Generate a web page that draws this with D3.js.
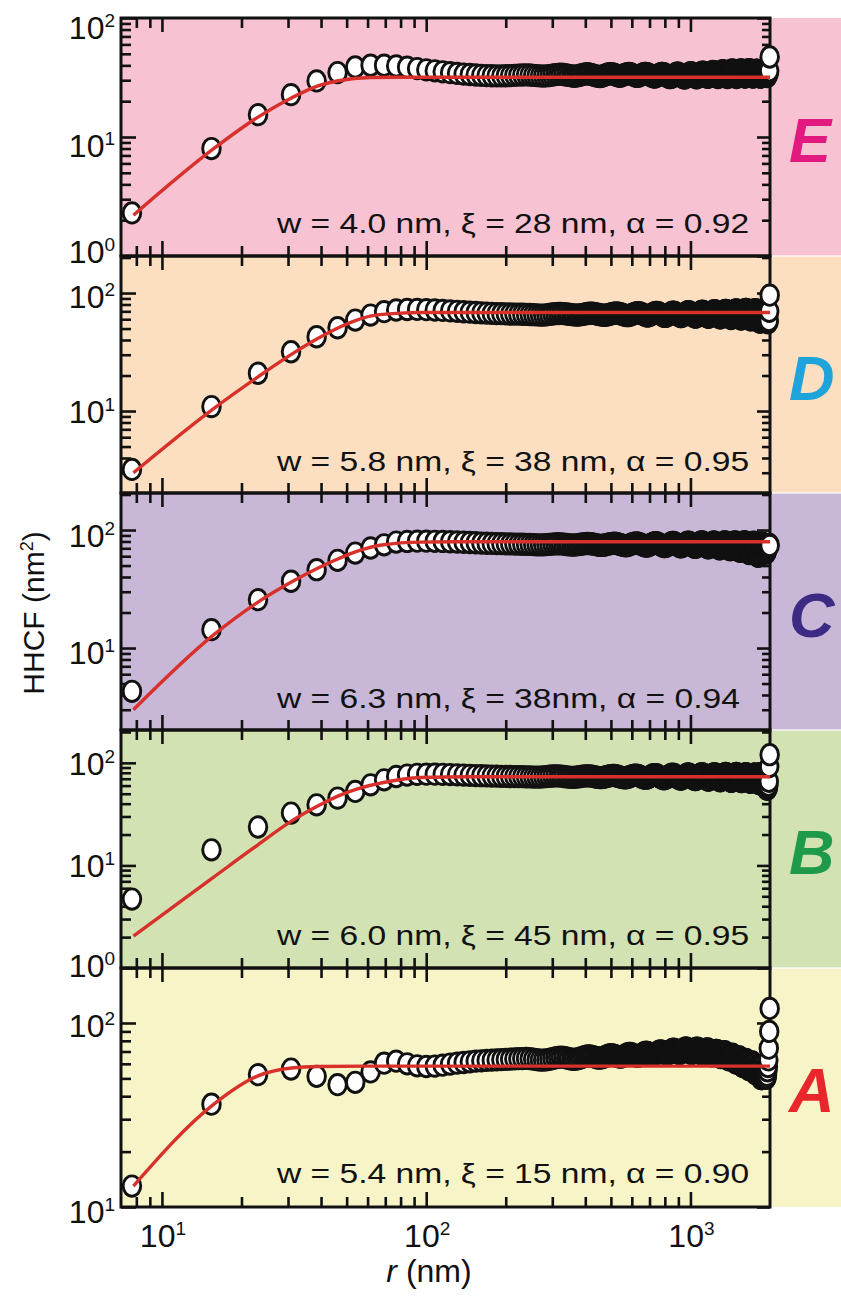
<!DOCTYPE html>
<html>
<head>
<meta charset="utf-8">
<script src="https://cdn.jsdelivr.net/npm/d3@7/dist/d3.min.js"></script>
<style>
  body { margin: 0; background: #fff; }
  svg { display: block; font-family: Arial, "Liberation Sans", Helvetica, sans-serif; }
</style>
</head>
<body>
<svg id="chart" width="841" height="1297"></svg>
<script>
// HHCF data, one value per point, points spaced rStep nm apart (r = rStep, 2*rStep, ...)
const rStep = 7.7;
const panelNames = ["E", "D", "C", "B", "A"];

const hhcfE = [
  2.3,8.0,15.4,22.7,29.6,34.8,38.8,40.1,40.1,39.5,
  38.6,37.6,36.7,36.0,35.3,34.7,34.2,33.8,33.5,33.2,
  33.0,32.8,32.7,32.6,32.6,32.7,32.8,33.0,33.1,33.2,
  33.3,33.2,33.0,32.8,32.6,32.5,32.6,32.8,33.1,33.4,
  33.6,33.7,33.5,33.2,32.9,32.6,32.4,32.5,32.8,33.2,
  33.6,33.9,34.0,33.8,33.4,33.0,32.6,32.3,32.2,32.4,
  32.8,33.3,33.7,34.0,34.1,33.9,33.5,33.0,32.6,32.4,
  32.5,32.9,33.4,33.8,34.1,34.2,34.0,33.6,33.1,32.7,
  32.4,32.3,32.5,32.9,33.4,33.9,34.2,34.3,34.1,33.7,
  33.2,32.7,32.3,32.0,31.9,32.1,32.5,33.0,33.5,33.9,
  34.2,34.3,34.1,33.6,33.0,32.4,31.9,31.6,31.5,31.7,
  32.1,32.7,33.3,33.9,34.3,34.5,34.3,33.8,33.2,32.5,
  31.9,31.5,31.3,31.4,31.8,32.4,33.1,33.8,34.4,34.7,
  34.6,34.2,33.5,32.8,32.1,31.6,31.4,31.6,32.1,32.8,
  33.5,34.2,34.8,35.1,35.0,34.6,33.9,33.1,32.4,31.9,
  31.7,31.9,32.4,33.1,33.9,34.7,35.3,35.6,35.4,34.9,
  34.1,33.2,32.4,31.8,31.6,31.8,32.4,33.2,34.1,35.0,
  35.7,36.1,36.0,35.5,34.7,33.7,32.8,32.0,31.6,31.7,
  32.2,33.0,33.9,34.9,35.8,36.4,36.6,36.3,35.6,34.6,
  33.6,32.6,31.9,31.6,31.8,32.4,33.3,34.3,35.3,36.1,
  36.6,36.7,36.3,35.5,34.5,33.5,32.6,32.0,31.8,32.0,
  32.6,33.5,34.5,35.5,36.3,36.8,36.8,36.3,35.5,34.5,
  33.5,32.6,32.0,31.8,32.0,32.6,33.5,34.5,35.4,36.1,
  36.5,36.5,36.0,35.2,34.2,33.2,32.4,31.9,31.8,32.1,
  32.7,33.5,34.4,35.2,35.8,36.0,35.8,35.2,34.4,33.5,
  32.8,32.3,32.2,32.5,33.2,34.1,35.0,36.0,47.0
];

const hhcfD = [
  3.2,10.9,20.9,31.8,42.6,50.8,59.0,65.1,69.5,71.8,
  72.5,72.6,72.3,71.8,71.2,70.6,70.0,69.4,68.9,68.4,
  68.0,67.6,67.3,67.0,66.8,66.6,66.4,66.3,66.2,66.1,
  66.0,65.8,65.5,65.2,65.0,65.1,65.4,65.9,66.4,66.8,
  67.1,67.2,67.0,66.6,66.1,65.6,65.2,65.0,65.1,65.5,
  66.0,66.6,67.1,67.4,67.5,67.2,66.7,66.1,65.5,65.0,
  64.7,64.8,65.2,65.8,66.5,67.1,67.6,67.8,67.6,67.1,
  66.4,65.7,65.0,64.5,64.3,64.5,65.0,65.7,66.5,67.3,
  67.9,68.2,68.1,67.6,66.8,65.9,65.0,64.3,63.9,64.0,
  64.5,65.3,66.2,67.2,68.0,68.5,68.6,68.2,67.4,66.4,
  65.3,64.3,63.6,63.3,63.5,64.1,65.0,66.1,67.2,68.1,
  68.7,68.9,68.6,67.9,66.9,65.8,64.7,63.8,63.2,63.1,
  63.5,64.3,65.4,66.6,67.8,68.8,69.4,69.5,69.0,68.1,
  66.9,65.5,64.2,63.1,62.5,62.4,62.9,63.9,65.2,66.6,
  68.0,69.2,70.0,70.2,69.8,68.8,67.5,66.0,64.5,63.3,
  62.5,62.3,62.7,63.6,65.0,66.6,68.2,69.6,70.5,70.8,
  70.4,69.4,68.0,66.3,64.6,63.1,62.0,61.5,61.7,62.5,
  63.8,65.5,67.3,69.0,70.4,71.2,71.3,70.7,69.4,67.7,
  65.8,63.9,62.3,61.2,60.8,61.2,62.3,64.0,66.0,68.1,
  70.0,71.4,72.1,72.0,71.1,69.6,67.6,65.4,63.3,61.6,
  60.5,60.2,60.7,61.9,63.7,65.8,68.0,70.0,71.6,72.5,
  72.6,71.9,70.5,68.5,66.2,63.9,61.8,60.2,59.3,59.2,
  59.9,61.4,63.4,65.7,68.0,70.0,71.5,72.3,72.2,71.3,
  69.6,67.3,64.7,62.0,59.6,57.8,56.8,56.6,57.3,58.8,
  60.9,63.3,65.8,68.1,69.9,70.9,71.0,70.1,68.3,65.8,
  63.0,60.3,58.0,56.5,55.9,56.6,58.5,70.0,96.0
];

const hhcfC = [
  4.3,14.3,25.7,36.8,46.1,55.4,63.8,70.4,75.0,79.1,
  80.0,80.4,80.5,80.3,80.0,79.6,79.2,78.8,78.4,78.0,
  77.6,77.3,77.0,76.8,76.6,76.4,76.2,76.0,75.9,75.8,
  75.7,75.5,75.2,75.0,74.9,75.0,75.3,75.7,76.1,76.4,
  76.5,76.3,75.9,75.4,75.0,74.7,74.6,74.8,75.2,75.8,
  76.3,76.7,76.9,76.8,76.4,75.8,75.2,74.6,74.2,74.1,
  74.3,74.8,75.5,76.2,76.8,77.2,77.3,77.0,76.4,75.6,
  74.8,74.1,73.7,73.6,73.9,74.5,75.3,76.2,77.0,77.6,
  77.8,77.6,77.0,76.1,75.1,74.1,73.4,73.0,73.1,73.6,
  74.4,75.4,76.4,77.3,77.9,78.1,77.8,77.1,76.1,75.0,
  73.9,73.0,72.5,72.4,72.8,73.6,74.7,75.9,77.0,77.9,
  78.4,78.4,77.9,77.0,75.8,74.5,73.3,72.4,71.9,72.0,
  72.6,73.6,74.9,76.3,77.6,78.6,79.1,79.0,78.3,77.1,
  75.7,74.2,72.8,71.8,71.3,71.4,72.1,73.3,74.8,76.4,
  77.8,78.9,79.4,79.3,78.6,77.3,75.7,74.0,72.5,71.3,
  70.7,70.8,71.5,72.8,74.4,76.1,77.6,78.7,79.2,79.0,
  78.1,76.6,74.8,72.9,71.1,69.8,69.2,69.4,70.3,71.9,
  73.8,75.8,77.6,78.9,79.5,79.3,78.3,76.6,74.5,72.3,
  70.3,68.8,68.1,68.2,69.1,70.8,72.9,75.1,77.1,78.6,
  79.4,79.3,78.3,76.5,74.2,71.7,69.3,67.4,66.3,66.1,
  66.8,68.4,70.6,73.1,75.6,77.7,79.1,79.6,79.1,77.6,
  75.3,72.5,69.6,66.9,64.8,63.5,63.2,63.9,65.5,67.8,
  70.5,73.3,75.9,77.8,78.8,78.7,77.4,75.1,72.1,68.8,
  65.6,62.8,60.8,59.8,59.9,61.2,63.5,66.5,69.8,72.9,
  75.4,77.0,77.6,77.0,75.4,73.0,70.2,67.5,65.3,64.0,
  63.8,64.8,66.8,69.4,72.1,74.3,75.6,75.7,74.0
];

const hhcfB = [
  4.7,14.2,23.7,32.4,39.0,45.3,52.6,61.1,68.3,73.6,
  76.0,77.2,77.6,77.5,77.2,76.8,76.4,76.0,75.6,75.2,
  74.9,74.6,74.3,74.1,73.9,73.7,73.6,73.5,73.4,73.3,
  73.1,72.9,72.7,72.6,72.7,73.0,73.5,74.0,74.4,74.6,
  74.5,74.1,73.6,73.0,72.5,72.2,72.2,72.5,73.0,73.6,
  74.2,74.6,74.8,74.6,74.1,73.4,72.7,72.1,71.8,71.9,
  72.3,73.0,73.8,74.6,75.2,75.5,75.3,74.8,74.0,73.1,
  72.3,71.7,71.4,71.5,72.0,72.8,73.8,74.8,75.6,76.0,
  76.0,75.5,74.6,73.5,72.4,71.5,70.9,70.8,71.2,72.0,
  73.1,74.4,75.6,76.5,76.9,76.8,76.1,75.0,73.6,72.2,
  71.0,70.2,69.9,70.1,70.9,72.0,73.4,74.9,76.2,77.1,
  77.5,77.3,76.5,75.2,73.6,72.0,70.6,69.7,69.3,69.6,
  70.4,71.7,73.3,74.9,76.4,77.5,78.0,77.8,76.9,75.5,
  73.8,72.0,70.4,69.2,68.6,68.7,69.5,70.9,72.7,74.6,
  76.3,77.6,78.3,78.3,77.5,76.1,74.3,72.3,70.4,68.9,
  68.0,67.8,68.4,69.7,71.5,73.5,75.5,77.1,78.2,78.6,
  78.2,77.1,75.4,73.3,71.1,69.1,67.6,66.9,67.0,67.9,
  69.5,71.6,73.9,76.0,77.7,78.7,78.9,78.2,76.7,74.6,
  72.3,70.0,68.0,66.6,66.0,66.2,67.3,69.1,71.4,73.8,
  76.0,77.7,78.7,78.9,78.2,76.7,74.6,72.2,69.8,67.8,
  66.3,65.6,65.8,66.9,68.8,71.2,73.7,76.0,77.7,78.6,
  78.5,77.5,75.6,73.2,70.6,68.1,66.1,64.8,64.4,64.9,
  66.2,68.2,70.6,73.1,75.4,77.1,78.0,77.9,76.8,74.9,
  72.4,69.7,67.1,64.9,63.3,62.6,62.8,64.0,66.0,68.5,
  71.2,73.6,75.4,76.1,75.5,73.6,70.7,67.2,63.6,60.3,
  57.7,56.0,55.3,55.8,57.5,60.5,66.0,92.0,120.0
];

const hhcfA = [
  13.0,36.2,52.4,56.2,51.3,46.2,47.6,54.2,60.5,62.0,
  60.0,58.5,58.0,58.3,59.0,59.8,60.5,61.0,61.5,62.0,
  62.3,62.6,62.8,63.0,63.2,63.4,63.6,63.8,64.0,64.1,
  64.2,64.0,63.6,63.2,62.9,62.8,63.0,63.5,64.1,64.7,
  65.1,65.2,65.0,64.6,64.1,63.7,63.5,63.6,64.0,64.6,
  65.3,65.9,66.2,66.2,65.9,65.4,64.9,64.5,64.4,64.6,
  65.1,65.8,66.5,67.0,67.2,67.1,66.7,66.1,65.6,65.3,
  65.3,65.7,66.4,67.2,67.9,68.3,68.3,67.9,67.2,66.5,
  66.0,65.8,66.0,66.6,67.4,68.3,69.0,69.4,69.3,68.8,
  68.1,67.4,66.9,66.8,67.1,67.8,68.7,69.6,70.3,70.6,
  70.4,69.8,69.0,68.2,67.7,67.6,68.0,68.8,69.9,71.0,
  71.8,72.1,71.9,71.2,70.2,69.2,68.4,68.1,68.3,69.0,
  70.1,71.3,72.4,73.1,73.2,72.8,71.9,70.7,69.5,68.6,
  68.2,68.4,69.1,70.2,71.4,72.5,73.1,73.1,72.5,71.4,
  70.1,68.8,67.8,67.4,67.6,68.4,69.6,70.9,71.9,72.4,
  72.2,71.4,70.1,68.6,67.3,66.4,66.2,66.7,67.7,68.9,
  70.1,70.9,71.0,70.5,69.3,67.8,66.3,65.2,64.8,65.1,
  66.1,67.4,68.7,69.6,69.8,69.2,68.0,66.4,64.8,63.6,
  63.0,63.2,64.0,65.3,66.6,67.5,67.7,67.1,65.8,64.1,
  62.4,61.1,60.6,60.9,61.9,63.3,64.6,65.4,65.4,64.6,
  63.1,61.3,59.6,58.4,58.0,58.5,59.7,61.2,62.6,63.4,
  63.3,62.3,60.6,58.7,57.0,55.9,55.7,56.3,57.6,59.2,
  60.6,61.4,61.3,60.3,58.6,56.6,54.7,53.4,53.0,53.5,
  54.7,56.2,57.6,58.3,58.0,56.8,54.9,52.8,51.0,49.9,
  49.8,50.6,52.1,53.7,54.9,55.3,54.8,53.5,51.9,50.6,
  50.0,50.4,52.0,55.0,58.0,63.0,73.0,90.0,120.0
];

// fitted curves as [r (nm), HHCF (nm^2)] knots
const fitE = [[7.8,2.2],[15.6,7.9],[23.1,14.7],[30.9,21.3],[39,26.9],[46.5,29.7],[61.4,31.6],[95,31.8],[2000,31.8]];
const fitD = [[7.8,3.0],[15.6,10.4],[23.1,19.5],[30.9,30.2],[39,41.3],[46.5,50.8],[54.6,59.0],[61.4,63.8],[77.4,67.3],[95,68.4],[2000,68.4]];
const fitC = [[7.8,3.0],[15.6,12.8],[23.1,24.5],[30.9,36.2],[39,47.6],[46.5,57.1],[54.6,65.9],[69,75.0],[95,79.0],[130,79.5],[2000,79.5]];
const fitB = [[7.8,2.04],[15.6,7.6],[23.1,15.9],[30.9,27.0],[39,38.1],[46.5,47.7],[54.6,55.5],[69,64.3],[95,71.9],[150,73.3],[2000,73.3]];
const fitA = [[7.8,13.0],[15.6,35.9],[23.1,51.6],[30.9,56.9],[39,58.0],[60,58.3],[2000,58.3]];

const fitLabels = [
  "w = 4.0 nm, \u03BE = 28 nm, \u03B1 = 0.92",
  "w = 5.8 nm, \u03BE = 38 nm, \u03B1 = 0.95",
  "w = 6.3 nm, \u03BE = 38nm, \u03B1 = 0.94",
  "w = 6.0 nm, \u03BE = 45 nm, \u03B1 = 0.95",
  "w = 5.4 nm, \u03BE = 15 nm, \u03B1 = 0.90"
];

// axes
const xDomain = [7, 2000];
const xMajor = [10, 100, 1000];
const yDomains = [[1, 100], [2.02, 206], [2.02, 206], [1, 209], [10, 199]];
const yMajorLabels = [[1, 10, 100], [10, 100], [10, 100], [1, 10, 100], [10, 100]];

///////////////////////////////////////////////////////////////////////////
// layout + styles
const bgColors = ["#f7c2d1", "#fbdfc0", "#c9b7d8", "#d2e2b3", "#f7f5c7"];
const letterColors = ["#e2197e", "#1ea3da", "#3c2a83", "#1f9a4a", "#e8262c"];
const fitColor = "#d8302b";

const plotLeft = 121, plotRight = 770, svgW = 841;
const panelEdges = [18, 256, 493, 730, 968, 1207];
// nudge of each y tick label (by exponent) relative to its tick, as in the figure
const yLabelNudge = [{0: -5, 1: 8, 2: 9}, {1: 0, 2: 3}, {1: 4, 2: 5}, {0: -3, 1: 0, 2: 0}, {1: 4, 2: 2}];

const svg = d3.select("#chart");
const x = d3.scaleLog().domain(xDomain).range([plotLeft, plotRight]);

const series = [hhcfE, hhcfD, hhcfC, hhcfB, hhcfA];
const fits = [fitE, fitD, fitC, fitB, fitA];

function minorTicks(domain) {
  const out = [];
  for (let e = -1; e <= 4; e++) {
    for (let k = 2; k <= 9; k++) {
      const v = k * Math.pow(10, e);
      if (v > domain[0] * 1.001 && v < domain[1] * 0.999) out.push(v);
    }
  }
  return out;
}
const xMinor = minorTicks(xDomain).filter(v => v < 1900);

// backgrounds first so neighbours don't cover frames
panelNames.forEach((name, i) => {
  const top = panelEdges[i], bottom = panelEdges[i + 1];
  svg.append("rect")
    .attr("x", plotLeft).attr("y", top)
    .attr("width", svgW - plotLeft).attr("height", bottom - top)
    .attr("fill", bgColors[i]);
  if (i > 0) {
    svg.append("line")
      .attr("x1", plotRight).attr("x2", svgW)
      .attr("y1", top).attr("y2", top)
      .attr("stroke", "#fff").attr("stroke-width", 1.5).attr("opacity", 0.8);
  }
});

const styleAxis = s => {
  s.select(".domain").remove();
  s.selectAll("line").attr("stroke", "#111").attr("stroke-width", 2.6);
};

panelNames.forEach((name, i) => {
  const top = panelEdges[i], bottom = panelEdges[i + 1];
  const y = d3.scaleLog().domain(yDomains[i]).range([bottom, top]);
  const g = svg.append("g").attr("class", "panel panel-" + name);

  const yMajor = [1, 10, 100].filter(v => v >= yDomains[i][0] && v <= yDomains[i][1]);
  const yMinor = minorTicks(yDomains[i]);

  // x ticks, bottom and top, pointing inward
  g.append("g").attr("transform", `translate(0,${bottom})`)
    .call(d3.axisBottom(x).tickValues(xMajor).tickSize(-15).tickFormat("")).call(styleAxis);
  g.append("g").attr("transform", `translate(0,${bottom})`)
    .call(d3.axisBottom(x).tickValues(xMinor).tickSize(-10).tickFormat("")).call(styleAxis);
  g.append("g").attr("transform", `translate(0,${top})`)
    .call(d3.axisTop(x).tickValues(xMajor).tickSize(-14).tickFormat("")).call(styleAxis);
  g.append("g").attr("transform", `translate(0,${top})`)
    .call(d3.axisTop(x).tickValues(xMinor).tickSize(-10).tickFormat("")).call(styleAxis);

  // y ticks, left and right
  g.append("g").attr("transform", `translate(${plotLeft},0)`)
    .call(d3.axisLeft(y).tickValues(yMajor).tickSize(-15).tickFormat("")).call(styleAxis);
  g.append("g").attr("transform", `translate(${plotLeft},0)`)
    .call(d3.axisLeft(y).tickValues(yMinor).tickSize(-10).tickFormat("")).call(styleAxis);
  g.append("g").attr("transform", `translate(${plotRight},0)`)
    .call(d3.axisRight(y).tickValues(yMajor).tickSize(-13).tickFormat("")).call(styleAxis);
  g.append("g").attr("transform", `translate(${plotRight},0)`)
    .call(d3.axisRight(y).tickValues(yMinor).tickSize(-8).tickFormat("")).call(styleAxis);

  // frame
  g.append("rect")
    .attr("x", plotLeft).attr("y", top)
    .attr("width", plotRight - plotLeft).attr("height", bottom - top)
    .attr("fill", "none").attr("stroke", "#111").attr("stroke-width", 3);

  // y tick labels 10^n
  yMajorLabels[i].forEach(v => {
    const ex = Math.round(Math.log10(v));
    const t = g.append("text")
      .attr("x", 115).attr("y", y(v) + 12 + (yLabelNudge[i][ex] || 0))
      .attr("text-anchor", "end")
      .attr("font-size", 32).attr("fill", "#111");
    t.append("tspan").text("10");
    t.append("tspan").attr("dy", -12).attr("font-size", 19).text(ex);
  });

  // data points
  const pts = series[i].map((v, k) => ({ r: (k + 1) * rStep, v: v }));
  g.append("g").selectAll("ellipse")
    .data(pts)
    .enter().append("ellipse")
    .attr("cx", d => x(d.r))
    .attr("cy", d => y(d.v))
    .attr("rx", 8.8).attr("ry", 10.2)
    .attr("fill", "#fff")
    .attr("stroke", "#111")
    .attr("stroke-width", 2.9);

  // fit line
  const line = d3.line()
    .x(d => x(d[0]))
    .y(d => y(d[1]))
    .curve(d3.curveMonotoneX);
  g.append("path")
    .attr("d", line(fits[i]))
    .attr("fill", "none")
    .attr("stroke", fitColor)
    .attr("stroke-width", 3.4);

  // fit parameters
  g.append("text")
    .attr("transform", `translate(277,${top + 215}) scale(1.2,1)`)
    .attr("font-size", 28).attr("fill", "#111")
    .text(fitLabels[i]);

  // sample letter
  g.append("text")
    .attr("x", 789).attr("y", top + 144)
    .attr("font-size", 63).attr("font-weight", "bold").attr("font-style", "italic")
    .attr("fill", letterColors[i])
    .text(name);
});

// x tick labels (bottom panel only)
xMajor.forEach(v => {
  const t = svg.append("text")
    .attr("x", x(v) + 1).attr("y", 1247)
    .attr("text-anchor", "middle")
    .attr("font-size", 32).attr("fill", "#111");
  t.append("tspan").text("10");
  t.append("tspan").attr("dy", -12).attr("font-size", 19).text(Math.round(Math.log10(v)));
});

// axis titles
const xTitle = svg.append("text")
  .attr("x", 429).attr("y", 1282)
  .attr("text-anchor", "middle")
  .attr("font-size", 32).attr("fill", "#111");
xTitle.append("tspan").attr("font-style", "italic").text("r");
xTitle.append("tspan").text(" (nm)");

const yTitle = svg.append("text")
  .attr("transform", "translate(44,613) rotate(-90)")
  .attr("text-anchor", "middle")
  .attr("font-size", 30).attr("fill", "#111");
yTitle.append("tspan").text("HHCF (nm");
yTitle.append("tspan").attr("dy", -11).attr("font-size", 18).text("2");
yTitle.append("tspan").attr("dy", 11).text(")");
</script>
</body>
</html>
